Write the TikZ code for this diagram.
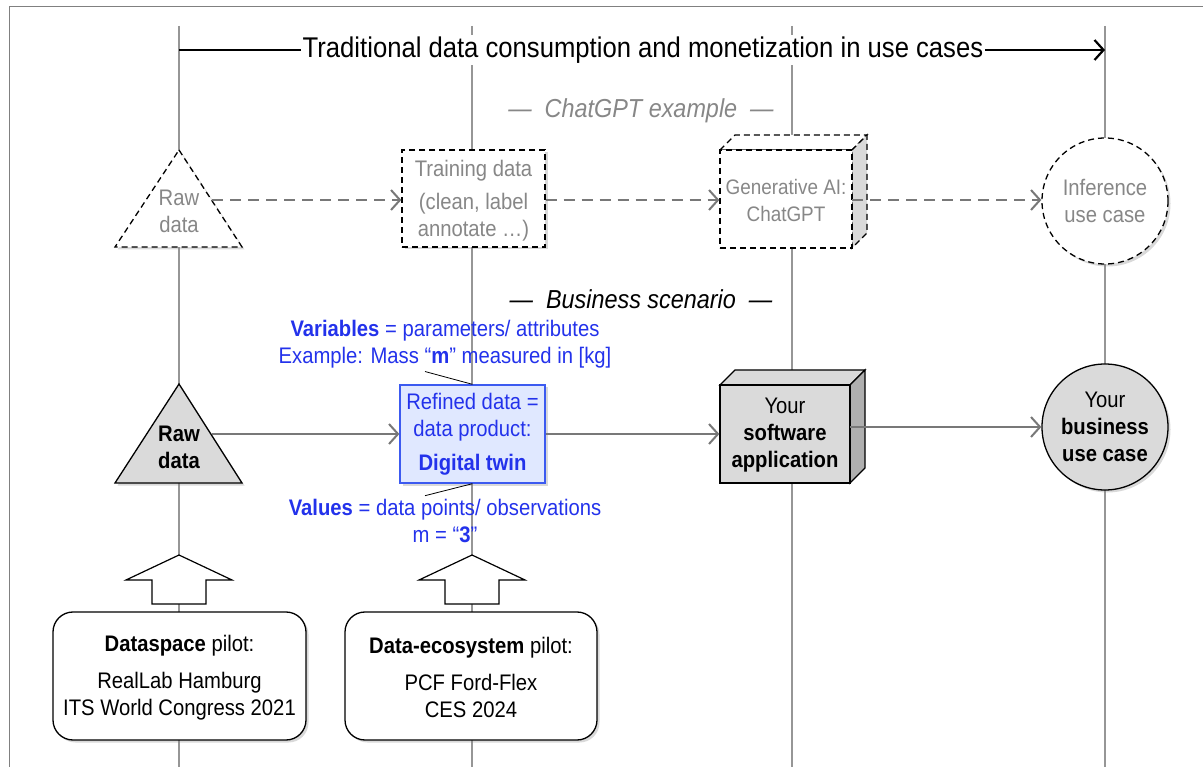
\documentclass[tikz,border=0pt]{standalone}
\usepackage{fontspec}
\setmainfont{Liberation Sans}[FakeStretch=0.9]
\usetikzlibrary{arrows.meta,shapes.geometric,shadows,calc}
\definecolor{lifegray}{RGB}{150,150,150}
\definecolor{flowgray}{RGB}{120,120,120}
\definecolor{ghostgray}{RGB}{135,135,135}
\definecolor{nodegray}{RGB}{218,218,218}
\definecolor{darkface}{RGB}{175,175,175}
\definecolor{bluetext}{RGB}{35,50,235}
\definecolor{bluefill}{RGB}{224,232,255}
\definecolor{blueline}{RGB}{60,90,240}
\tikzset{
  life/.style={draw=lifegray, line width=1.3pt},
  flow/.style={draw=flowgray, line width=2pt, -{Straight Barb[length=9pt,width=20pt]}},
  dflow/.style={flow, dash pattern=on 11pt off 7pt},
  dashedge/.style={draw=black, line width=1.3pt, dash pattern=on 6pt off 4pt},
  solidedge/.style={draw=black, line width=1.3pt},
  shade/.style={drop shadow={opacity=0.3, shadow xshift=2.5pt, shadow yshift=-2.5pt}},
  ghost/.style={text=ghostgray, align=center},
  txt/.style={align=center},
  bluet/.style={text=bluetext, align=center},
}
\begin{document}
\begin{tikzpicture}[x=1pt,y=-1pt,font=\fontsize{22.5}{27}\selectfont]
\useasboundingbox (0,0) rectangle (1203,767);
% frame
\draw[draw=gray, line width=1pt] (9,770) -- (9,7) -- (1210,7);
% lifelines
\coordinate (l1t) at (179,26); \coordinate (l1b) at (179,767);
\coordinate (l2t) at (472,26); \coordinate (l2b) at (472,767);
\coordinate (l3t) at (792,26); \coordinate (l3b) at (792,767);
\coordinate (l4t) at (1105,26); \coordinate (l4b) at (1105,767);
\draw[life] (l1t) -- (l1b);
\draw[life] (l2t) -- (l2b);
\draw[life] (l3t) -- (l3b);
\draw[life] (l4t) -- (l4b);
% title arrow
\coordinate (ts) at (179,50); \coordinate (te) at (1105,50);
\draw[line width=2.2pt, -{Straight Barb[length=9pt,width=20pt]}] (ts) -- (te);
\node[fill=white, inner sep=2pt, font=\fontsize{28.5}{32}\selectfont] (title) at (643,50) {Traditional data consumption and monetization in use cases};
% section labels
\node[text=ghostgray, font=\fontsize{26}{30}\selectfont\itshape] (chat) at (641,111) {---\ \ ChatGPT example\ \ ---};
\node[font=\fontsize{26}{30}\selectfont\itshape] (biz) at (641,299) {---\ \ Business scenario\ \ ---};
% ===== top row (dashed) =====
\filldraw[fill=white, dashedge, shade] (179,150) -- (242,247) -- (115,247) -- cycle;
\node[ghost] (rawA) at (179,211) {Raw\\data};
\coordinate (rawAe) at (212,200);
\node[dashedge, fill=white, shade, minimum width=143pt, minimum height=97pt] (train) at (473.5,198.5) {};
\node[ghost] (trainT) at (473.5,201) {Training data\\[6pt](clean, label\\annotate \dots)};
% 3D dashed box
\filldraw[fill=white, dashedge] (720,150) -- (735,135) -- (867,135) -- (852,150) -- cycle;
\filldraw[fill=nodegray, dashedge] (852,150) -- (867,135) -- (867,233) -- (852,248) -- cycle;
\node[dashedge, fill=white, minimum width=132pt, minimum height=98pt] (genai) at (786,199) {};
\node[ghost, font=\fontsize{21}{27}\selectfont] (genaiT) at (786,200) {Generative AI:\\ChatGPT};
\node[circle, dashedge, fill=white, shade, minimum size=126pt] (infer) at (1105,201) {};
\node[ghost] (inferT) at (1105,201) {Inference\\use case};
\draw[dflow] (rawAe) -- (train.west |- rawAe);
\draw[dflow] (train.east |- rawAe) -- (genai.west |- rawAe);
\draw[dflow] (852,200) -- (infer.west |- rawAe);
% ===== bottom row (solid) =====
\filldraw[fill=nodegray, solidedge, shade] (179,384) -- (242,483) -- (115,483) -- cycle;
\node[txt, font=\fontsize{22.5}{27}\selectfont\bfseries] (rawB) at (179,447) {Raw\\data};
\coordinate (rawBe) at (212,434);
\node[draw=blueline, line width=1.3pt, fill=bluefill, shade, minimum width=145pt, minimum height=98pt] (dt) at (472.5,434) {};
\node[bluet] (dtT) at (472.5,434) {Refined data =\\data product:\\[7pt]\textbf{Digital twin}};
\node[bluet] (vars) at (445,344) {\textbf{Variables} = parameters/ attributes\\Example: Mass “\textbf{m}” measured in [kg]};
\node[bluet] (vals) at (445,521) {\textbf{Values} = data points/ observations\\m = “\textbf{3}”};
\draw[line width=0.8pt] ([xshift=-20pt]vars.south) -- (dt.north);
\draw[line width=0.8pt] (dt.south) -- ([xshift=-20pt]vals.north);
% 3D solid box
\filldraw[fill=nodegray, solidedge] (720,385) -- (735,370) -- (865,370) -- (850,385) -- cycle;
\filldraw[fill=darkface, solidedge] (850,385) -- (865,370) -- (865,468) -- (850,483) -- cycle;
\node[solidedge, fill=nodegray, minimum width=130pt, minimum height=98pt] (app) at (785,434) {};
\node[txt] (appT) at (785,435) {Your\\\textbf{software}\\\textbf{application}};
\node[circle, solidedge, fill=nodegray, shade, minimum size=126pt] (biz) at (1105,427) {};
\node[txt] (bizT) at (1105,427) {Your\\\textbf{business}\\\textbf{use case}};
\draw[flow] (rawBe) -- (dt.west |- rawBe);
\draw[flow] (dt.east) -- (app.west);
\draw[flow] (850,427) -- (biz.west);
% ===== block arrows =====
\filldraw[fill=white, draw=black, line width=1.2pt] (179,555) -- (232,580) -- (206,580) -- (206,604) -- (152,604) -- (152,580) -- (126,580) -- cycle;
\filldraw[fill=white, draw=black, line width=1.2pt] (472,555) -- (525,580) -- (499,580) -- (499,604) -- (445,604) -- (445,580) -- (419,580) -- cycle;
% ===== pilot boxes =====
\node[solidedge, fill=white, rounded corners=20pt, shade, minimum width=253pt, minimum height=128pt] (p1) at (179.5,676) {};
\node[txt] (p1T) at (179.5,677.5) {\textbf{Dataspace} pilot:\\[10pt]RealLab Hamburg\\ITS World Congress 2021};
\node[solidedge, fill=white, rounded corners=20pt, shade, minimum width=252pt, minimum height=128pt] (p2) at (471,676) {};
\node[txt] (p2T) at (471,677.5) {\textbf{Data-ecosystem} pilot:\\[10pt]PCF Ford-Flex\\CES 2024};
\end{tikzpicture}
\end{document}
